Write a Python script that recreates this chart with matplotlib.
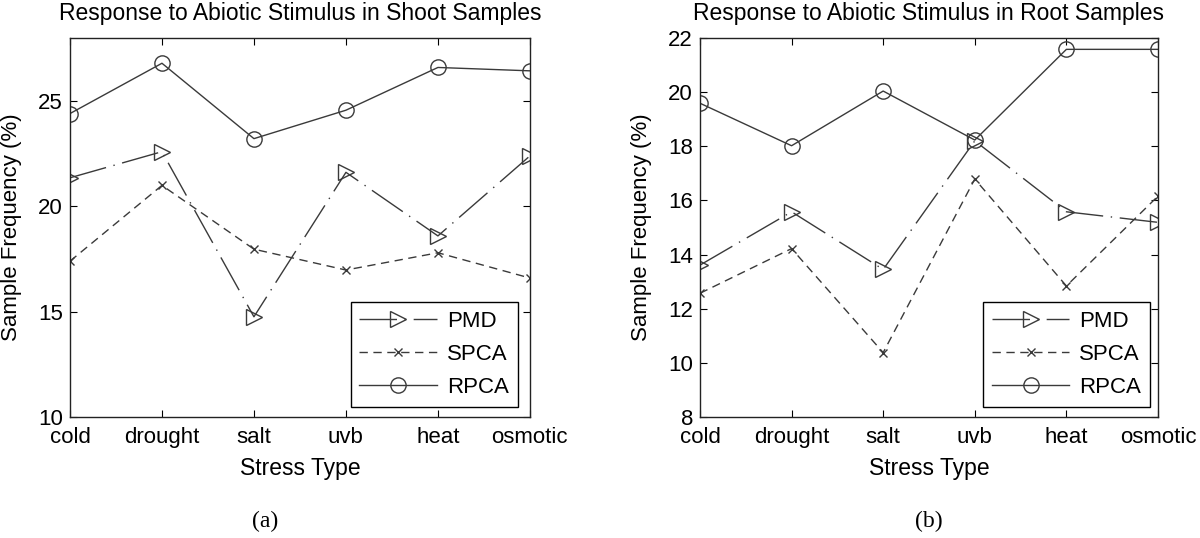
import numpy as np
import matplotlib
matplotlib.use('Agg')
import matplotlib.pyplot as plt

# Datos
stress_types = ['cold', 'drought', 'salt', 'uvb', 'heat', 'osmotic']

shoot_pmd = [21.36, 22.6, 14.76, 21.62, 18.6, 22.4]
shoot_spca = [17.4, 21.0, 17.97, 16.98, 17.8, 16.6]
shoot_rpca = [24.41, 26.8, 23.22, 24.57, 26.6, 26.44]

root_pmd = [13.61, 15.58, 13.45, 18.2, 15.58, 15.19]
root_spca = [12.57, 14.22, 10.38, 16.79, 12.84, 16.16]
root_rpca = [19.59, 18.02, 20.04, 18.23, 21.58, 21.58]

plt.rcParams['font.family'] = ['Liberation Sans', 'DejaVu Sans']
color = '#3a3a3a'


def panel(ax, pmd, spca, rpca, title, ylim, yticks, legend_right):
    x = np.arange(1, len(stress_types) + 1)
    ax.plot(x, pmd, linestyle=(0, (27, 5.5, 1, 5.5)), color=color, lw=1.0,
            marker='>', markersize=12, markerfacecolor='none',
            markeredgecolor=color, markeredgewidth=1.0, label='PMD')
    ax.plot(x, spca, linestyle=(0, (6, 4)), color=color, lw=1.0,
            marker='x', markersize=6, markeredgewidth=1.0, label='SPCA')
    ax.plot(x, rpca, linestyle='-', color=color, lw=1.0,
            marker='o', markersize=11, markerfacecolor='none',
            markeredgecolor=color, markeredgewidth=1.0, label='RPCA')

    ax.set_xlim(1, 6)
    ax.set_ylim(*ylim)
    ax.set_xticks(x)
    ax.set_xticklabels(stress_types)
    ax.set_yticks(yticks)
    ax.tick_params(direction='in', top=True, right=True, labelsize=16,
                   length=5, width=0.8)
    ax.tick_params(axis='x', pad=7)
    ax.tick_params(axis='y', pad=5)
    for s in ax.spines.values():
        s.set_linewidth(1.0)
        s.set_color('#222222')
    ax.set_title(title, fontsize=16.5, pad=13)
    ax.set_xlabel('Stress Type', fontsize=16.5)
    ax.xaxis.set_label_coords(0.5, -0.105)
    ax.set_ylabel('Sample Frequency (%)', fontsize=16)
    ax.yaxis.set_label_coords(-0.104, 0.5)
    leg = ax.legend(loc='lower right', bbox_to_anchor=(legend_right, 0.026),
                    fontsize=16, fancybox=False, edgecolor='black',
                    framealpha=1, handlelength=3.5, handletextpad=0.45,
                    borderpad=0.4, labelspacing=0.55, borderaxespad=0)
    leg.get_frame().set_linewidth(1.0)


fig = plt.figure(figsize=(12, 5.38), dpi=100)
ax1 = fig.add_axes([0.0583, 0.2249, 0.3833, 0.7045])
ax2 = fig.add_axes([0.5833, 0.2249, 0.3817, 0.7045])

panel(ax1, shoot_pmd, shoot_spca, shoot_rpca,
      'Response to Abiotic Stimulus in Shoot Samples', (10, 28),
      [10, 15, 20, 25], 0.974)
panel(ax2, root_pmd, root_spca, root_rpca,
      'Response to Abiotic Stimulus in Root Samples', (8, 22),
      [8, 10, 12, 14, 16, 18, 20, 22], 0.983)

fig.text(0.221, 0.03, '(a)', ha='center', va='center', fontsize=17,
         family='Liberation Serif')
fig.text(0.774, 0.03, '(b)', ha='center', va='center', fontsize=17,
         family='Liberation Serif')

fig.savefig('out.png', dpi=100)
